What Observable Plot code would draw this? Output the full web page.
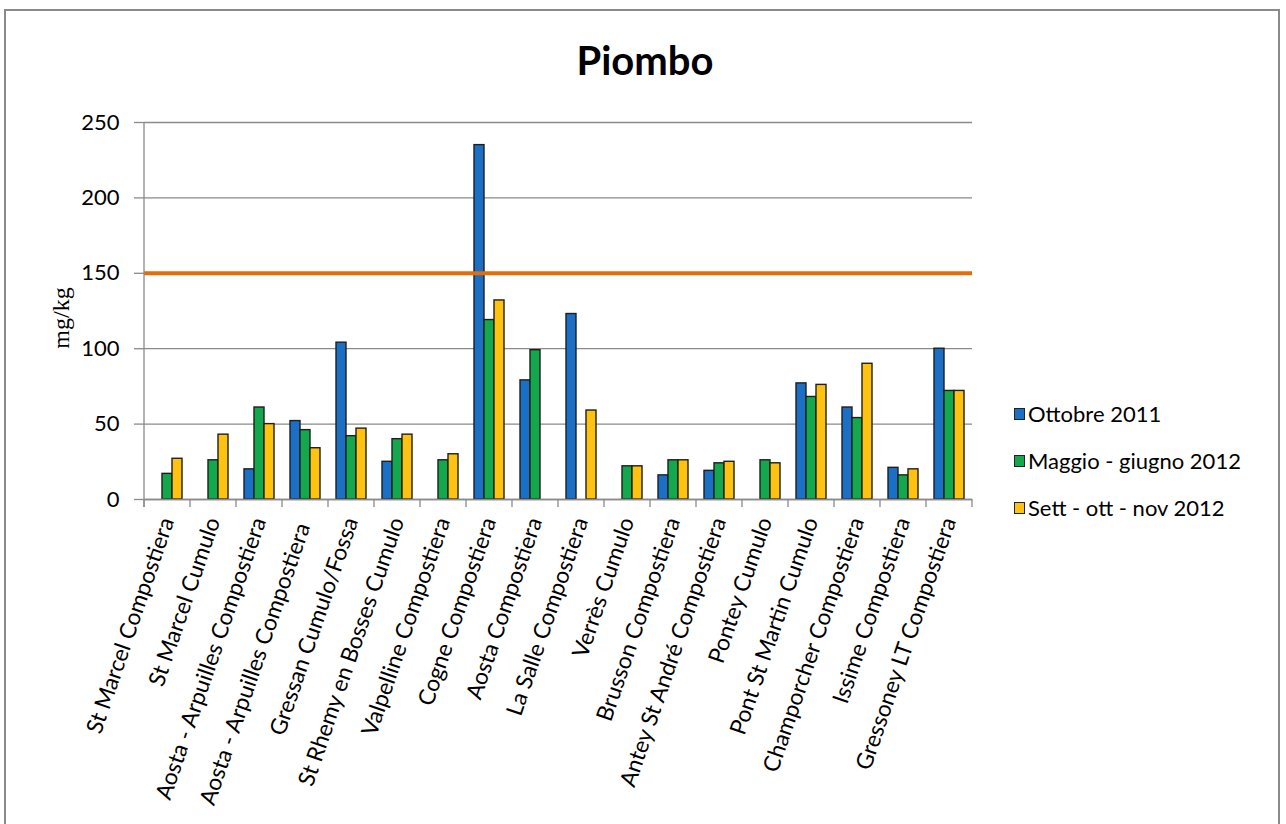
<!DOCTYPE html>
<html>
<head>
<meta charset="utf-8">
<script src="https://cdn.jsdelivr.net/npm/d3@7"></script>
<script src="https://cdn.jsdelivr.net/npm/@observablehq/plot@0.6"></script>
<style>
  html, body { margin: 0; padding: 0; background: #fff; }
  #wrap { position: relative; width: 1286px; height: 824px; overflow: hidden; font-family: Lato, "Open Sans", sans-serif; }
  #frame { position: absolute; left: 4px; top: 9px; width: 1276px; height: 830px; border: 2.5px solid #8a8a8a; box-sizing: border-box; }
  #title { position: absolute; left: 0; width: 1290px; top: 36px; text-align: center; font-weight: bold; font-size: 40px; color: #000; }
  #ylabel { position: absolute; left: 61px; top: 318px; transform: translate(-50%, -50%) rotate(-90deg); font-family: "Liberation Serif", "DejaVu Serif", serif; font-size: 24px; color: #000; white-space: nowrap; }
  #legend { position: absolute; left: 1014px; top: 390px; font-size: 22px; color: #000; }
  .item { display: flex; align-items: center; height: 47px; margin-top: 0; }
  .sw { width: 11px; height: 12px; border: 1px solid #222; box-sizing: border-box; margin-right: 3px; }
  #chart { position: absolute; left: 0; top: 0; }
</style>
</head>
<body>
<div id="wrap">
  <div id="frame"></div>
  <div id="chart"></div>
  <div id="title"></div>
  <div id="ylabel"></div>
  <div id="legend"></div>
</div>
<script>
const categories = [
  "St Marcel Compostiera", "St Marcel Cumulo", "Aosta - Arpuilles Compostiera",
  "Aosta - Arpuilles Compostiera ", "Gressan Cumulo/Fossa", "St Rhemy en Bosses Cumulo",
  "Valpelline Compostiera", "Cogne Compostiera", "Aosta Compostiera",
  "La Salle Compostiera", "Verrès Cumulo", "Brusson Compostiera",
  "Antey St André Compostiera", "Pontey Cumulo", "Pont St Martin Cumulo",
  "Champorcher Compostiera", "Issime Compostiera", "Gressoney LT Compostiera"
];
const seriesNames = ["Ottobre 2011", "Maggio - giugno 2012", "Sett - ott - nov 2012"];
const ottobre2011 = [null, null, 20, 52, 104, 25, null, 235, 79, 123, null, 16, 19, null, 77, 61, 21, 100];
const maggioGiugno2012 = [17, 26, 61, 46, 42, 40, 26, 119, 99, null, 22, 26, 24, 26, 68, 54, 16, 72];
const settOttNov2012 = [27, 43, 50, 34, 47, 43, 30, 132, null, 59, 22, 26, 25, 24, 76, 90, 20, 72];
const colors = ["#1b6fc4", "#14a84c", "#ffc20e"];
const yTicks = [0, 50, 100, 150, 200, 250];
const limitValue = [150];
const titleText = "Piombo";
const yLabelText = "mg/kg";

const seriesValues = [ottobre2011, maggioGiugno2012, settOttNov2012];
const table = [];
categories.forEach((c, i) => {
  seriesNames.forEach((s, j) => {
    const v = seriesValues[j][i];
    if (v != null) table.push({cat: c, series: s, value: v});
  });
});

const chart = Plot.plot({
  width: 1286,
  height: 824,
  marginTop: 122,
  marginBottom: 325,
  marginLeft: 143,
  marginRight: 314,
  style: {fontFamily: "Lato, 'Open Sans', sans-serif", fontSize: "22px", background: "transparent", color: "#000", overflow: "visible"},
  fx: {domain: categories, padding: 0},
  x: {domain: seriesNames, paddingInner: 0, paddingOuter: 0.6, axis: null},
  y: {domain: [0, 250]},
  color: {domain: seriesNames, range: colors},
  marks: [
    Plot.gridY(yTicks, {stroke: "#8a8a8a", strokeOpacity: 1, strokeWidth: 1.3}),
    Plot.axisY(yTicks, {tickSize: 10, tickPadding: 15, label: null, stroke: "#8a8a8a", strokeWidth: 1.3}),
    Plot.axisFx({anchor: "bottom", tickRotate: -71, tickSize: 0, tickPadding: 19, dx: 0, fontSize: 22.7, label: null}),
    Plot.barY(table, {fx: "cat", x: "series", y: "value", fill: "series", stroke: "#1e1e1e", strokeWidth: 1.4}),
    Plot.ruleY([0], {stroke: "#8a8a8a", strokeWidth: 1.3}),
    Plot.ruleY(limitValue, {stroke: "#E46C0A", strokeWidth: 4})
  ]
});

// axis line and category boundary ticks from the library's scales
const fx = chart.scale("fx");
const y = chart.scale("y");
const y0 = y.apply(0);
const yTop = y.apply(250);
const bounds = categories.map(c => fx.apply(c));
bounds.push(fx.apply(categories[categories.length - 1]) + fx.bandwidth);
const g = d3.select(chart).append("g").attr("stroke", "#8a8a8a").attr("stroke-width", 1.3);
g.append("line").attr("x1", bounds[0]).attr("x2", bounds[0]).attr("y1", yTop).attr("y2", y0 + 8);
bounds.forEach(b => g.append("line").attr("x1", b).attr("x2", b).attr("y1", y0).attr("y2", y0 + 8));

document.getElementById("chart").appendChild(chart);
document.getElementById("title").textContent = titleText;
document.getElementById("ylabel").textContent = yLabelText;
const legend = document.getElementById("legend");
seriesNames.forEach((s, i) => {
  const item = document.createElement("div");
  item.className = "item";
  const sw = document.createElement("div");
  sw.className = "sw";
  sw.style.background = colors[i];
  const t = document.createElement("span");
  t.textContent = s;
  item.appendChild(sw);
  item.appendChild(t);
  legend.appendChild(item);
});
</script>
</body>
</html>
